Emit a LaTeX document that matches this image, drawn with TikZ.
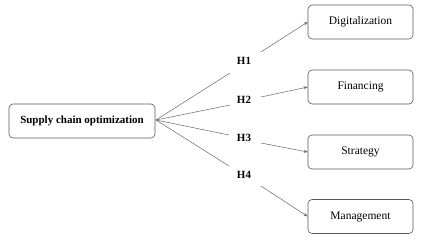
\documentclass[tikz,border=0pt]{standalone}
\usepackage{fontspec}
\setmainfont{Liberation Serif}
\usetikzlibrary{arrows.meta}
\begin{document}
\begin{tikzpicture}[x=1pt,y=-1pt,
  box/.style={draw=black!65, line width=0.6pt, rounded corners=4pt, inner sep=0pt, fill=white},
  hlabel/.style={font=\fontsize{11}{13}\selectfont\bfseries, inner sep=0pt},
  conn/.style={draw=black!60, line width=0.5pt},
  arr/.style={conn, -{Stealth[length=4pt,width=3pt]}}]
\useasboundingbox (0,0) rectangle (424,239);
\node[box, minimum width=146pt, minimum height=34pt, font=\fontsize{11}{13}\selectfont\bfseries] (src) at (82,121) {Supply chain optimization};
\node[box, minimum width=105pt, minimum height=34pt, font=\fontsize{11.5}{13}\selectfont] (dig) at (360.5,22) {Digitalization};
\node[box, minimum width=105pt, minimum height=34pt, font=\fontsize{11.5}{13}\selectfont] (fin) at (360.5,87) {Financing};
\node[box, minimum width=105pt, minimum height=34pt, font=\fontsize{11.5}{13}\selectfont] (str) at (360.5,152) {Strategy};
\node[box, minimum width=105pt, minimum height=34pt, font=\fontsize{11.5}{13}\selectfont] (man) at (360.5,216.5) {Management};
\node[hlabel] (h1) at (244,61) {H1};
\node[hlabel] (h2) at (244,100) {H2};
\node[hlabel] (h3) at (244,138) {H3};
\node[hlabel] (h4) at (244,175) {H4};
\coordinate (o) at (156,120);
\coordinate (a1) at (230,73);
\coordinate (a2) at (230,105);
\coordinate (a3) at (229,135);
\coordinate (a4) at (229,166);
\coordinate (b1) at (261,52);
\coordinate (b2) at (261,97);
\coordinate (b3) at (261,143);
\coordinate (b4) at (261,186);
\draw[conn] (o) -- (a1);
\draw[conn] (o) -- (a2);
\draw[conn] (o) -- (a3);
\draw[conn] (o) -- (a4);
\draw[arr] (b1) -- (dig.west);
\draw[arr] (b2) -- (fin.west);
\draw[arr] (b3) -- (str.west);
\draw[arr] (b4) -- (man.west);
\end{tikzpicture}
\end{document}
